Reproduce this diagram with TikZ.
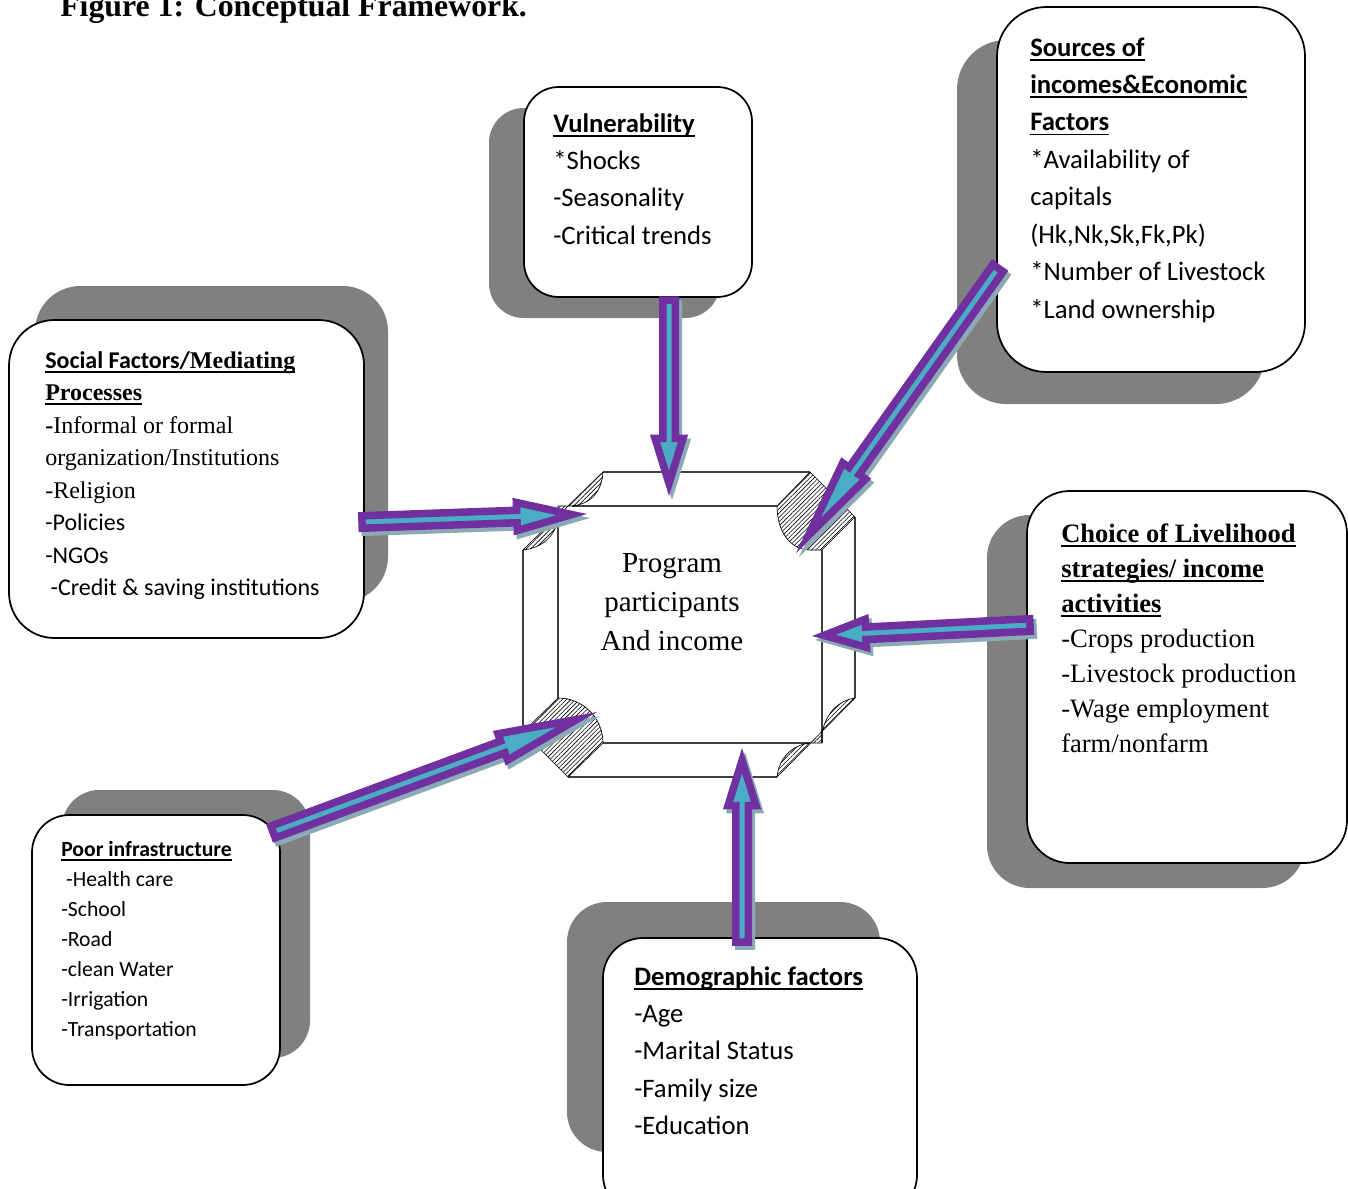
\documentclass[tikz,border=0pt]{standalone}
\usepackage{fontspec}
\setmainfont{Liberation Serif}
\newfontfamily\calf{Carlito}
\newfontfamily\tnrf{Liberation Serif}
\usetikzlibrary{calc,patterns.meta,fit}
\definecolor{boxshadow}{RGB}{128,128,128}
\definecolor{arrpurple}{RGB}{112,48,160}
\definecolor{arrcyan}{RGB}{75,172,198}
\definecolor{arrshadow}{RGB}{140,170,182}

\newcommand\myul[1]{\setbox0\hbox{#1}\rlap{\rule[-3.4pt]{\wd0}{1.3pt}}\box0}

% #1 tail coordinate, #2 tip coordinate, #3 head length (px)
\newcommand\blockarrow[3]{%
  \pgfmathsetmacro\baext{0.75*3.75*sqrt((#3)*(#3)+196)/14}%
  \pgfmathsetmacro\bahl{\baext+0.75*(#3)}%
  \coordinate (ba-t) at ($(#2)!\baext pt!(#1)$);
  \coordinate (ba-h) at ($(#2)!\bahl pt!(#1)$);
  \coordinate (ba-1) at ($(#1)!4.6875pt!90:(#2)$);
  \coordinate (ba-2) at ($(ba-h)!4.6875pt!90:(ba-t)$);
  \coordinate (ba-3) at ($(ba-h)!10.5pt!90:(ba-t)$);
  \coordinate (ba-4) at ($(ba-h)!10.5pt!-90:(ba-t)$);
  \coordinate (ba-5) at ($(ba-h)!4.6875pt!-90:(ba-t)$);
  \coordinate (ba-6) at ($(#1)!4.6875pt!-90:(#2)$);
  \begin{scope}[transform canvas={xshift=2.25pt,yshift=-3pt}]
    \filldraw[arrowshadow] (ba-1) -- (ba-2) -- (ba-3) -- (ba-t) -- (ba-4) -- (ba-5) -- (ba-6) -- cycle;
  \end{scope}
  \filldraw[arrowbody] (ba-1) -- (ba-2) -- (ba-3) -- (ba-t) -- (ba-4) -- (ba-5) -- (ba-6) -- cycle;
}

\begin{document}
\begin{tikzpicture}[x=0.75pt,y=-0.75pt,
  shadowbox/.style={fill=boxshadow, draw=none, inner sep=0pt, outer sep=0pt},
  mainbox/.style={fill=white, draw=black, line width=1.3pt, inner sep=0pt, outer sep=0pt},
  txt/.style={anchor=base west, inner sep=0pt},
  hatch/.style={pattern={Lines[angle=45,distance=2.3pt,line width=0.45pt]}, draw=black, line width=0.5pt},
  cline/.style={draw=black!75, line width=0.8pt},
  arrowbody/.style={draw=arrpurple, fill=arrcyan, line width=5.625pt, line join=miter},
  arrowshadow/.style={draw=arrshadow, fill=arrshadow, line width=5.625pt, line join=miter}]

\useasboundingbox (0,0) rectangle (1348,1188);
\clip (0,0) rectangle (1348,1188);

% title
\node[anchor=base west, inner sep=0pt, font=\tnrf\bfseries\fontsize{23.85}{28}\selectfont] (title) at (60,17) {Figure 1: Conceptual Framework.};

% box shadows
\node[shadowbox, rounded corners=26pt, fit={(489,108) (720,318)}] (vulnsh) {};
\node[shadowbox, rounded corners=37pt, fit={(957,40) (1265,404)}] (srcsh) {};
\node[shadowbox, rounded corners=34pt, fit={(35,286) (388,602)}] (socsh) {};
\node[shadowbox, rounded corners=32pt, fit={(987,515) (1305,888)}] (chsh) {};
\node[shadowbox, rounded corners=28pt, fit={(62,790) (310,1058)}] (poorsh) {};
\node[shadowbox, rounded corners=30pt, fit={(567,902) (880,1152)}] (demosh) {};

% boxes
\node[mainbox, rounded corners=26pt, fit={(524,87) (752,297)}] (vuln) {};
\node[mainbox, rounded corners=37pt, fit={(997,7) (1305,372)}] (src) {};
\node[mainbox, rounded corners=34pt, fit={(9,320) (364,638)}] (soc) {};
\node[mainbox, rounded corners=32pt, fit={(1027,491) (1347,863)}] (ch) {};
\node[mainbox, rounded corners=28pt, fit={(32,815) (280,1085)}] (poor) {};
\node[mainbox, rounded corners=30pt, fit={(603,938) (917,1215)}] (demo) {};

% texts
\node[txt, font=\calf\fontsize{20}{28.1}\selectfont] (vulnt) at (553,132)
  {\vtop{\hbox{\bfseries\myul{Vulnerability}}\hbox{*Shocks}\hbox{-Seasonality}\hbox{-Critical trends}}};

\node[txt, font=\calf\fontsize{20}{28.1}\selectfont] (srct) at (1030,56)
  {\vtop{\hbox{\bfseries\myul{Sources of}}\hbox{\bfseries\myul{incomes\&Economic}}\hbox{\bfseries\myul{Factors}}%
  \hbox{*Availability of}\hbox{capitals}\hbox{(Hk,Nk,Sk,Fk,Pk)}\hbox{*Number of Livestock}\hbox{*Land ownership}}};

\node[txt, font=\fontsize{18}{24.4}\selectfont] (soct) at (45,368)
  {\vtop{\hbox{\bfseries\myul{\calf Social Factors/\tnrf Mediating}}\hbox{\tnrf\bfseries\myul{Processes}}%
  \hbox{\tnrf\textbf{-}Informal or formal}\hbox{\tnrf organization/Institutions}\hbox{\tnrf -Religion}%
  \hbox{\calf -Policies}\hbox{\calf -NGOs}\hbox{\calf\ -Credit \& saving institutions}}};

\node[txt, font=\tnrf\fontsize{19.9}{26.25}\selectfont] (cht) at (1061,542)
  {\vtop{\hbox{\bfseries\myul{Choice of Livelihood}}\hbox{\bfseries\myul{strategies/ income}}\hbox{\bfseries\myul{activities}}%
  \hbox{-Crops production}\hbox{-Livestock production}\hbox{-Wage employment}\hbox{farm/nonfarm}}};

\node[txt, font=\calf\fontsize{16.25}{22.5}\selectfont] (poort) at (61,856)
  {\vtop{\hbox{\bfseries\myul{Poor infrastructure}}\hbox{\ -Health care}\hbox{-School}\hbox{-Road}%
  \hbox{-clean Water}\hbox{-Irrigation}\hbox{-Transportation}}};

\node[txt, font=\calf\fontsize{20}{28.1}\selectfont] (demot) at (634,985)
  {\vtop{\hbox{\bfseries\myul{Demographic factors}}\hbox{-Age}\hbox{-Marital Status}\hbox{-Family size}\hbox{-Education}}};

% central shape
\draw[cline] (603,472) -- (810,472);
\draw[cline] (572,506) -- (777,506);
\draw[cline] (523,550) -- (523,732);
\draw[cline] (558,520) -- (558,698);
\draw[cline] (822,550) -- (822,743);
\draw[cline] (855,517) -- (855,698);
\draw[cline] (603,743) -- (810,743);
\draw[cline] (568,777) -- (777,777);
\draw[hatch] (603,472) -- (523,550) .. controls (543,548) and (555,535) .. (558,520) -- (558,506) -- (572,506) .. controls (592,504) and (602,490) .. (603,472) -- cycle;
\draw[hatch] (777,506) .. controls (777,531) and (790,550) .. (810,550) -- (822,550) -- (855,517) -- (810,472) -- cycle;
\draw[hatch] (558,698) .. controls (583,698) and (603,718) .. (603,743) -- (568,777) -- (523,732) -- cycle;
\draw[hatch] (855,698) -- (777,777) .. controls (779,758) and (792,745) .. (810,743) -- (822,743) -- (822,733) .. controls (826,712) and (840,700) .. (855,698) -- cycle;
\node[inner sep=0pt, anchor=base, font=\tnrf\fontsize{21.75}{29.25}\selectfont] (prog) at (672,572)
  {\vtop{\hbox to 0pt{\hss Program\hss}\hbox to 0pt{\hss participants\hss}\hbox to 0pt{\hss And income\hss}}};

% arrow end points
\coordinate (a1s) at (669,300); \coordinate (a1e) at (669,496);
\coordinate (a2s) at (362,522); \coordinate (a2e) at (587,514);
\coordinate (a3s) at (998,268); \coordinate (a3e) at (796,553);
\coordinate (a4s) at (1030,625); \coordinate (a4e) at (812,636);
\coordinate (a5s) at (273,832); \coordinate (a5e) at (597,712);
\coordinate (a6s) at (742,942); \coordinate (a6e) at (742,748);

\blockarrow{a1s}{a1e}{45}
\blockarrow{a2s}{a2e}{55}
\blockarrow{a3s}{a3e}{79}
\blockarrow{a4s}{a4e}{42}
\blockarrow{a5s}{a5e}{79}
\blockarrow{a6s}{a6e}{45}

\end{tikzpicture}
\end{document}
